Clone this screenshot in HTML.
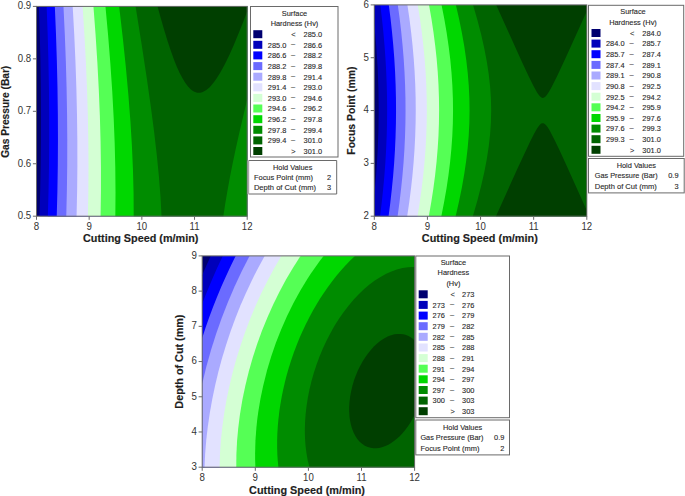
<!DOCTYPE html>
<html><head><meta charset="utf-8"><style>
html,body{margin:0;padding:0;background:#fff;}
svg{display:block;}
text{font-family:"Liberation Sans",sans-serif;fill:#2a2a2a;stroke:#2a2a2a;stroke-width:0.12px;}
.k{fill:#333;stroke:none;}
.t{fill:#1e1e1e;stroke:#1e1e1e;stroke-width:0.15px;}
</style></head><body>
<svg width="685" height="496" viewBox="0 0 685 496">
<rect width="685" height="496" fill="#fff"/>
<rect x="36.50" y="6.40" width="210.70" height="209.80" fill="#000070"/>
<path fill="#0000bb" d="M39.32,6.40 247.20,6.40 247.20,216.20 39.46,216.20 40.21,190.24 40.70,164.98 40.98,139.02 41.02,113.05 40.84,87.09 40.42,60.43 39.77,33.77 38.89,6.40Z"/>
<path fill="#0000ff" d="M47.07,6.40 247.20,6.40 247.20,216.20 47.84,216.20 48.54,190.94 49.00,165.68 49.22,139.72 49.20,113.76 48.92,87.09 48.41,60.43 47.66,33.77 46.65,6.40Z"/>
<path fill="#6b6bff" d="M55.53,6.40 247.20,6.40 247.20,216.20 56.74,216.20 57.40,190.94 57.80,165.68 57.95,139.72 57.84,113.76 57.47,87.09 56.84,60.43 55.97,33.77 54.83,6.40Z"/>
<path fill="#aaaaff" d="M63.98,6.40 247.20,6.40 247.20,216.20 66.26,216.20 66.87,190.94 67.21,165.68 67.27,139.72 67.06,113.76 66.58,87.79 65.83,61.13 64.81,34.47 63.48,6.40Z"/>
<path fill="#e2e2ff" d="M73.14,6.40 247.20,6.40 247.20,216.20 76.57,216.20 77.12,190.94 77.37,165.68 77.33,140.42 76.99,114.46 76.38,88.50 75.46,61.83 74.24,34.47 72.70,6.40Z"/>
<path fill="#d4ffd4" d="M83.01,6.40 247.20,6.40 247.20,216.20 87.88,216.20 88.34,191.64 88.49,166.38 88.32,141.12 87.83,115.16 87.03,89.20 85.90,62.53 84.45,35.17 82.63,6.40Z"/>
<path fill="#55ff55" d="M93.58,6.40 247.20,6.40 247.20,216.20 100.58,216.20 100.93,191.64 100.93,167.08 100.57,141.82 99.86,115.86 98.81,89.90 97.37,62.53 95.56,34.47 93.45,6.40Z"/>
<path fill="#00d700" d="M105.56,6.40 247.20,6.40 247.20,216.20 115.34,216.20 115.52,192.34 115.29,167.78 114.68,143.23 113.68,117.97 112.24,91.30 110.39,63.94 108.15,35.87 105.46,6.40Z"/>
<path fill="#008c00" d="M119.65,6.40 247.20,6.40 247.20,216.20 133.70,216.20 133.57,193.04 132.97,169.89 131.92,146.03 130.42,121.47 128.37,94.81 125.81,66.74 122.81,37.98 119.16,6.40Z"/>
<path fill="#006400" d="M135.86,6.40 247.20,6.40 247.20,99.26 239.16,133.40 235.59,149.54 232.64,163.57 229.86,177.61 227.28,191.64 225.16,204.27 223.37,216.20 161.52,216.20 160.58,197.96 158.97,176.91 156.74,154.45 154.04,131.30 150.83,106.74 146.64,77.27 141.74,44.99 135.59,6.40Z"/>
<path fill="#003f00" d="M157.71,6.40 247.20,6.40 247.20,11.36 243.68,20.63 238.74,33.12 233.81,44.92 229.58,54.38 225.35,63.13 222.54,68.51 219.72,73.48 216.90,78.00 214.08,82.02 211.26,85.48 209.15,87.68 206.33,90.05 204.21,91.37 202.81,92.02 201.40,92.48 199.99,92.75 198.58,92.81 197.17,92.67 195.76,92.32 194.35,91.76 192.94,90.97 191.53,89.97 190.12,88.75 188.01,86.51 185.19,82.75 182.37,78.12 179.55,72.66 176.73,66.40 173.91,59.38 170.39,49.61 167.57,41.08 164.05,29.58 160.52,17.27 157.57,6.40Z"/>
<rect x="374.30" y="4.90" width="212.50" height="211.30" fill="#000070"/>
<path fill="#0000bb" d="M375.01,4.90 586.80,4.90 586.80,216.20 374.30,216.20 374.30,195.55 376.23,173.80 377.59,152.60 378.43,130.69 378.70,109.49 378.42,88.29 377.61,67.09 376.21,45.18 374.30,23.73 374.30,4.90Z"/>
<path fill="#0000ff" d="M380.70,4.90 586.80,4.90 586.80,216.20 380.06,216.20 381.71,202.77 383.14,189.35 384.36,175.92 385.37,162.49 386.15,149.06 386.68,136.34 387.01,123.62 387.13,110.20 387.02,96.77 386.71,84.05 386.16,70.62 385.43,57.90 384.50,45.18 383.31,31.75 381.90,18.33 380.29,4.90Z"/>
<path fill="#6b6bff" d="M389.22,4.90 586.80,4.90 586.80,216.20 388.58,216.20 390.31,202.77 391.82,189.35 393.12,175.92 394.13,163.20 394.97,149.77 395.54,137.05 395.92,123.62 396.04,110.90 395.95,98.18 395.62,84.76 395.09,72.04 394.29,58.61 393.26,45.18 391.99,31.75 390.51,18.33 388.80,4.90Z"/>
<path fill="#aaaaff" d="M398.46,4.90 586.80,4.90 586.80,216.20 397.59,216.20 399.43,202.77 401.04,189.35 402.41,175.92 403.55,162.49 404.43,149.06 405.03,136.34 405.40,123.62 405.54,110.90 405.44,98.18 405.08,84.76 404.51,72.04 403.66,58.61 402.55,45.18 401.21,31.75 399.63,18.33 397.81,4.90Z"/>
<path fill="#e2e2ff" d="M407.70,4.90 586.80,4.90 586.80,216.20 407.19,216.20 409.17,202.77 410.90,189.35 412.38,175.92 413.59,162.49 414.54,149.06 415.19,136.34 415.60,122.92 415.74,110.20 415.62,97.48 415.25,84.76 414.58,71.33 413.70,58.61 412.52,45.18 411.07,31.75 409.36,18.33 407.42,4.90Z"/>
<path fill="#d4ffd4" d="M418.36,4.90 586.80,4.90 586.80,216.20 417.54,216.20 419.67,202.77 421.55,189.35 423.16,175.92 424.49,162.49 425.53,149.06 426.23,136.34 426.67,123.62 426.83,110.90 426.71,98.18 426.29,84.76 425.61,72.04 424.60,58.61 423.30,45.18 421.72,31.75 419.87,18.33 417.76,4.90Z"/>
<path fill="#55ff55" d="M429.73,4.90 586.80,4.90 586.80,216.20 428.82,216.20 431.28,202.07 433.34,188.64 435.11,175.21 436.57,161.78 437.70,148.36 438.48,135.64 438.94,122.92 439.10,110.20 438.95,97.48 438.50,84.76 437.74,72.04 436.61,58.61 435.25,45.89 433.51,32.46 431.48,19.03 429.04,4.90Z"/>
<path fill="#00d700" d="M441.82,4.90 586.80,4.90 586.80,216.20 441.34,216.20 444.12,202.07 446.46,188.64 448.46,175.21 450.13,161.78 451.37,149.06 452.28,136.34 452.84,123.62 453.04,110.90 452.88,98.18 452.37,85.46 451.51,72.74 450.24,59.32 448.60,45.89 446.62,32.46 444.32,19.03 441.57,4.90Z"/>
<path fill="#008c00" d="M456.03,4.90 586.80,4.90 586.80,216.20 455.66,216.20 459.06,201.36 461.93,187.23 464.28,173.80 466.15,161.08 467.63,148.36 468.71,135.64 469.36,122.92 469.58,110.20 469.39,98.18 468.76,85.46 467.71,72.74 466.26,60.02 464.31,46.59 461.96,33.17 459.10,19.03 455.89,4.90Z"/>
<path fill="#006400" d="M473.09,4.90 586.80,4.90 586.80,216.20 472.84,216.20 477.52,199.95 481.17,185.81 484.23,172.39 486.81,158.96 488.75,146.24 490.09,134.22 490.90,122.21 491.18,110.20 490.90,98.18 490.07,86.17 488.73,74.16 486.79,61.44 484.21,48.01 481.16,34.58 477.52,20.45 473.07,4.90Z"/>
<path fill="#003f00" d="M496.54,4.90 586.80,4.90 586.80,11.14 565.48,58.17 556.95,76.41 551.26,87.76 549.13,91.56 547.00,94.80 545.58,96.48 544.16,97.57 543.45,97.85 542.74,97.93 542.03,97.81 541.32,97.49 539.89,96.33 538.47,94.60 537.05,92.47 533.50,86.10 528.52,76.02 521.42,60.78 496.21,4.90ZM541.32,123.58 542.03,123.26 542.74,123.15 543.45,123.24 544.87,123.99 546.29,125.41 547.71,127.33 549.84,130.82 554.82,140.41 559.79,150.84 566.19,164.70 586.80,210.41 586.80,216.20 495.97,216.20 517.86,167.80 529.94,141.97 534.21,133.54 537.05,128.55 539.18,125.51 540.60,124.06 541.25,123.62Z"/>
<rect x="202.20" y="255.90" width="212.40" height="211.30" fill="#000070"/>
<path fill="#0000bb" d="M210.72,256.18 210.86,255.90 414.60,255.90 414.60,467.20 202.20,467.20 202.20,275.13 206.30,265.79 210.52,256.61Z"/>
<path fill="#0000ff" d="M222.80,256.09 222.89,255.90 414.60,255.90 414.60,467.20 202.20,467.20 202.20,303.72 206.83,291.94 211.86,279.93 217.12,268.11 222.55,256.61Z"/>
<path fill="#6b6bff" d="M235.59,256.19 235.73,255.90 414.60,255.90 414.60,467.20 202.20,467.20 202.20,337.95 205.71,327.28 209.30,317.05 213.14,306.78 217.12,296.73 221.38,286.55 225.88,276.39 230.61,266.26 235.37,256.61Z"/>
<path fill="#aaaaff" d="M249.79,255.90 414.60,255.90 414.60,467.20 202.20,467.20 202.20,383.64 206.31,366.85 210.86,350.60 215.99,334.34 221.71,318.09 227.77,302.50 234.70,286.29 241.98,270.75 249.56,255.90Z"/>
<path fill="#e2e2ff" d="M264.71,255.90 414.60,255.90 414.60,467.20 204.51,467.20 205.15,453.77 206.24,440.35 207.76,426.92 209.71,413.49 212.15,399.64 214.99,385.94 218.19,372.50 221.80,359.08 226.06,344.94 230.54,331.52 235.47,318.09 240.55,305.37 246.07,292.65 251.93,280.16 258.12,267.91 264.65,255.90Z"/>
<path fill="#d4ffd4" d="M281.05,256.52 281.43,255.90 414.60,255.90 414.60,467.20 219.56,467.20 219.99,453.77 220.91,440.35 222.31,426.92 224.17,413.49 226.48,400.06 229.25,386.64 232.64,372.50 236.32,359.08 240.47,345.65 245.08,332.22 249.90,319.50 255.48,306.07 261.26,293.35 267.55,280.65 274.01,268.62 281.00,256.61Z"/>
<path fill="#55ff55" d="M300.23,256.49 300.63,255.90 414.60,255.90 414.60,467.20 236.28,467.20 236.39,454.48 237.06,441.05 238.27,427.63 240.10,413.49 242.49,399.36 245.27,385.93 248.73,371.80 252.64,358.04 256.90,344.82 261.87,331.08 267.41,317.38 273.10,304.66 279.35,291.94 286.02,279.57 292.89,267.91 300.15,256.61Z"/>
<path fill="#00d700" d="M323.67,256.00 323.75,255.90 414.60,255.90 414.60,467.20 255.39,467.20 255.17,460.84 255.10,453.77 255.46,440.35 256.46,426.92 257.22,419.85 258.15,412.78 260.45,398.83 263.29,385.19 266.85,371.09 271.11,356.79 275.92,342.82 281.17,329.40 287.09,315.97 293.36,303.25 300.23,290.71 307.33,279.02 310.90,273.57 315.15,267.39 319.40,261.55 323.19,256.61Z"/>
<path fill="#008c00" d="M354.93,256.10 355.15,255.90 414.60,255.90 414.60,467.20 278.37,467.20 277.77,460.84 277.33,453.77 277.14,447.41 277.14,440.35 277.37,433.28 277.80,426.21 278.43,419.15 279.35,411.37 280.40,404.30 281.76,396.53 283.21,389.46 285.01,381.69 286.85,374.62 288.88,367.56 291.34,359.78 293.84,352.58 296.68,345.04 299.52,338.07 302.39,331.52 305.70,324.45 309.27,317.38 312.70,311.02 316.36,304.66 320.12,298.52 323.96,292.65 327.94,286.92 332.20,281.17 336.46,275.78 340.72,270.73 345.18,265.79 349.96,260.86 354.38,256.61Z"/>
<path fill="#006400" d="M408.21,267.17 411.76,266.94 414.60,266.93 414.60,467.20 309.41,467.20 307.70,460.13 306.44,453.07 305.56,446.00 305.00,438.23 304.83,430.45 305.05,421.97 305.60,414.20 306.58,405.72 307.92,397.24 309.47,389.46 311.52,380.98 313.93,372.50 316.57,364.45 319.62,356.25 322.96,348.25 326.51,340.63 330.49,332.93 334.53,325.86 338.97,318.80 343.56,312.18 348.54,305.68 353.51,299.82 358.48,294.52 364.14,289.11 369.14,284.87 374.82,280.62 380.50,276.94 386.19,273.84 391.49,271.45 396.84,269.53 402.52,268.06 407.91,267.21Z"/>
<path fill="#003f00" d="M394.71,334.27 397.55,333.91 400.39,333.88 403.23,334.23 405.37,334.76 407.96,335.76 410.34,337.05 412.47,338.58 414.60,340.53 414.60,415.11 412.47,419.11 410.34,422.69 408.01,426.21 405.37,429.77 402.52,433.16 399.68,436.15 396.84,438.78 394.00,441.07 391.16,443.03 388.32,444.69 385.47,446.04 381.92,447.30 379.08,447.95 376.24,448.27 373.40,448.25 370.56,447.86 367.72,447.04 364.87,445.74 362.03,443.86 359.67,441.76 357.25,438.93 355.38,436.11 353.56,432.57 352.09,428.82 350.92,424.80 350.05,420.56 349.49,416.32 349.19,411.37 349.22,406.42 349.55,401.48 350.16,396.53 351.19,390.88 352.57,385.22 354.07,380.28 355.64,375.90 357.77,370.78 360.00,366.14 362.74,361.20 365.44,356.96 367.98,353.42 370.84,349.89 374.11,346.35 377.13,343.53 380.50,340.82 384.05,338.47 387.61,336.59 391.16,335.19 394.36,334.34Z"/>
<rect x="36.50" y="6.40" width="210.70" height="209.80" fill="none" stroke="#6a6a6a" stroke-width="1"/>
<line x1="36.50" y1="216.20" x2="36.50" y2="219.80" stroke="#6a6a6a"/>
<text x="36.5" y="229.8" font-size="10.50" text-anchor="middle" textLength="5.4" lengthAdjust="spacingAndGlyphs" class="k">8</text>
<line x1="89.17" y1="216.20" x2="89.17" y2="219.80" stroke="#6a6a6a"/>
<text x="89.2" y="229.8" font-size="10.50" text-anchor="middle" textLength="5.4" lengthAdjust="spacingAndGlyphs" class="k">9</text>
<line x1="141.85" y1="216.20" x2="141.85" y2="219.80" stroke="#6a6a6a"/>
<text x="141.8" y="229.8" font-size="10.50" text-anchor="middle" textLength="10.7" lengthAdjust="spacingAndGlyphs" class="k">10</text>
<line x1="194.52" y1="216.20" x2="194.52" y2="219.80" stroke="#6a6a6a"/>
<text x="194.5" y="229.8" font-size="10.50" text-anchor="middle" textLength="10.0" lengthAdjust="spacingAndGlyphs" class="k">11</text>
<line x1="247.20" y1="216.20" x2="247.20" y2="219.80" stroke="#6a6a6a"/>
<text x="247.2" y="229.8" font-size="10.50" text-anchor="middle" textLength="10.7" lengthAdjust="spacingAndGlyphs" class="k">12</text>
<line x1="32.90" y1="6.40" x2="36.50" y2="6.40" stroke="#6a6a6a"/>
<text x="31.2" y="9.2" font-size="10.50" text-anchor="end" textLength="13.4" lengthAdjust="spacingAndGlyphs" class="k">0.9</text>
<line x1="32.90" y1="58.85" x2="36.50" y2="58.85" stroke="#6a6a6a"/>
<text x="31.2" y="61.6" font-size="10.50" text-anchor="end" textLength="13.4" lengthAdjust="spacingAndGlyphs" class="k">0.8</text>
<line x1="32.90" y1="111.30" x2="36.50" y2="111.30" stroke="#6a6a6a"/>
<text x="31.2" y="114.1" font-size="10.50" text-anchor="end" textLength="13.4" lengthAdjust="spacingAndGlyphs" class="k">0.7</text>
<line x1="32.90" y1="163.75" x2="36.50" y2="163.75" stroke="#6a6a6a"/>
<text x="31.2" y="166.6" font-size="10.50" text-anchor="end" textLength="13.4" lengthAdjust="spacingAndGlyphs" class="k">0.6</text>
<line x1="32.90" y1="216.20" x2="36.50" y2="216.20" stroke="#6a6a6a"/>
<text x="31.2" y="219.0" font-size="10.50" text-anchor="end" textLength="13.4" lengthAdjust="spacingAndGlyphs" class="k">0.5</text>
<text transform="translate(9.00 111.80) rotate(-90)" x="0" y="0" font-size="10" font-weight="bold" text-anchor="middle" textLength="92.1" lengthAdjust="spacingAndGlyphs" class="t">Gas Pressure (Bar)</text>
<text x="140.7" y="242.3" font-size="10.00" text-anchor="middle" font-weight="bold" textLength="115.4" lengthAdjust="spacingAndGlyphs" class="t">Cutting Speed (m/min)</text>
<rect x="374.30" y="4.90" width="212.50" height="211.30" fill="none" stroke="#6a6a6a" stroke-width="1"/>
<line x1="374.30" y1="216.20" x2="374.30" y2="219.80" stroke="#6a6a6a"/>
<text x="374.3" y="229.8" font-size="10.50" text-anchor="middle" textLength="5.4" lengthAdjust="spacingAndGlyphs" class="k">8</text>
<line x1="427.43" y1="216.20" x2="427.43" y2="219.80" stroke="#6a6a6a"/>
<text x="427.4" y="229.8" font-size="10.50" text-anchor="middle" textLength="5.4" lengthAdjust="spacingAndGlyphs" class="k">9</text>
<line x1="480.55" y1="216.20" x2="480.55" y2="219.80" stroke="#6a6a6a"/>
<text x="480.5" y="229.8" font-size="10.50" text-anchor="middle" textLength="10.7" lengthAdjust="spacingAndGlyphs" class="k">10</text>
<line x1="533.67" y1="216.20" x2="533.67" y2="219.80" stroke="#6a6a6a"/>
<text x="533.7" y="229.8" font-size="10.50" text-anchor="middle" textLength="10.0" lengthAdjust="spacingAndGlyphs" class="k">11</text>
<line x1="586.80" y1="216.20" x2="586.80" y2="219.80" stroke="#6a6a6a"/>
<text x="586.8" y="229.8" font-size="10.50" text-anchor="middle" textLength="10.7" lengthAdjust="spacingAndGlyphs" class="k">12</text>
<line x1="370.70" y1="4.90" x2="374.30" y2="4.90" stroke="#6a6a6a"/>
<text x="369.0" y="7.7" font-size="10.50" text-anchor="end" textLength="5.4" lengthAdjust="spacingAndGlyphs" class="k">6</text>
<line x1="370.70" y1="57.72" x2="374.30" y2="57.72" stroke="#6a6a6a"/>
<text x="369.0" y="60.5" font-size="10.50" text-anchor="end" textLength="5.4" lengthAdjust="spacingAndGlyphs" class="k">5</text>
<line x1="370.70" y1="110.55" x2="374.30" y2="110.55" stroke="#6a6a6a"/>
<text x="369.0" y="113.3" font-size="10.50" text-anchor="end" textLength="5.4" lengthAdjust="spacingAndGlyphs" class="k">4</text>
<line x1="370.70" y1="163.38" x2="374.30" y2="163.38" stroke="#6a6a6a"/>
<text x="369.0" y="166.2" font-size="10.50" text-anchor="end" textLength="5.4" lengthAdjust="spacingAndGlyphs" class="k">3</text>
<line x1="370.70" y1="216.20" x2="374.30" y2="216.20" stroke="#6a6a6a"/>
<text x="369.0" y="219.0" font-size="10.50" text-anchor="end" textLength="5.4" lengthAdjust="spacingAndGlyphs" class="k">2</text>
<text transform="translate(355.00 110.60) rotate(-90)" x="0" y="0" font-size="10" font-weight="bold" text-anchor="middle" textLength="88.1" lengthAdjust="spacingAndGlyphs" class="t">Focus Point (mm)</text>
<text x="479.8" y="242.1" font-size="10.00" text-anchor="middle" font-weight="bold" textLength="116.0" lengthAdjust="spacingAndGlyphs" class="t">Cutting Speed (m/min)</text>
<rect x="202.20" y="255.90" width="212.40" height="211.30" fill="none" stroke="#6a6a6a" stroke-width="1"/>
<line x1="202.20" y1="467.20" x2="202.20" y2="470.80" stroke="#6a6a6a"/>
<text x="202.2" y="480.8" font-size="10.50" text-anchor="middle" textLength="5.4" lengthAdjust="spacingAndGlyphs" class="k">8</text>
<line x1="255.30" y1="467.20" x2="255.30" y2="470.80" stroke="#6a6a6a"/>
<text x="255.3" y="480.8" font-size="10.50" text-anchor="middle" textLength="5.4" lengthAdjust="spacingAndGlyphs" class="k">9</text>
<line x1="308.40" y1="467.20" x2="308.40" y2="470.80" stroke="#6a6a6a"/>
<text x="308.4" y="480.8" font-size="10.50" text-anchor="middle" textLength="10.7" lengthAdjust="spacingAndGlyphs" class="k">10</text>
<line x1="361.50" y1="467.20" x2="361.50" y2="470.80" stroke="#6a6a6a"/>
<text x="361.5" y="480.8" font-size="10.50" text-anchor="middle" textLength="10.0" lengthAdjust="spacingAndGlyphs" class="k">11</text>
<line x1="414.60" y1="467.20" x2="414.60" y2="470.80" stroke="#6a6a6a"/>
<text x="414.6" y="480.8" font-size="10.50" text-anchor="middle" textLength="10.7" lengthAdjust="spacingAndGlyphs" class="k">12</text>
<line x1="198.60" y1="255.90" x2="202.20" y2="255.90" stroke="#6a6a6a"/>
<text x="196.9" y="258.7" font-size="10.50" text-anchor="end" textLength="5.4" lengthAdjust="spacingAndGlyphs" class="k">9</text>
<line x1="198.60" y1="291.12" x2="202.20" y2="291.12" stroke="#6a6a6a"/>
<text x="196.9" y="293.9" font-size="10.50" text-anchor="end" textLength="5.4" lengthAdjust="spacingAndGlyphs" class="k">8</text>
<line x1="198.60" y1="326.33" x2="202.20" y2="326.33" stroke="#6a6a6a"/>
<text x="196.9" y="329.1" font-size="10.50" text-anchor="end" textLength="5.4" lengthAdjust="spacingAndGlyphs" class="k">7</text>
<line x1="198.60" y1="361.55" x2="202.20" y2="361.55" stroke="#6a6a6a"/>
<text x="196.9" y="364.4" font-size="10.50" text-anchor="end" textLength="5.4" lengthAdjust="spacingAndGlyphs" class="k">6</text>
<line x1="198.60" y1="396.77" x2="202.20" y2="396.77" stroke="#6a6a6a"/>
<text x="196.9" y="399.6" font-size="10.50" text-anchor="end" textLength="5.4" lengthAdjust="spacingAndGlyphs" class="k">5</text>
<line x1="198.60" y1="431.98" x2="202.20" y2="431.98" stroke="#6a6a6a"/>
<text x="196.9" y="434.8" font-size="10.50" text-anchor="end" textLength="5.4" lengthAdjust="spacingAndGlyphs" class="k">4</text>
<line x1="198.60" y1="467.20" x2="202.20" y2="467.20" stroke="#6a6a6a"/>
<text x="196.9" y="470.0" font-size="10.50" text-anchor="end" textLength="5.4" lengthAdjust="spacingAndGlyphs" class="k">3</text>
<text transform="translate(183.00 361.60) rotate(-90)" x="0" y="0" font-size="10" font-weight="bold" text-anchor="middle" textLength="94.1" lengthAdjust="spacingAndGlyphs" class="t">Depth of Cut (mm)</text>
<text x="307.0" y="493.6" font-size="10.00" text-anchor="middle" font-weight="bold" textLength="115.9" lengthAdjust="spacingAndGlyphs" class="t">Cutting Speed (m/min)</text>
<rect x="250.5" y="6.5" width="87.5" height="150.5" fill="#fff" stroke="#6a6a6a"/>
<text x="294.5" y="15.8" font-size="7.40" text-anchor="middle">Surface</text>
<text x="294.5" y="26.1" font-size="7.40" text-anchor="middle">Hardness (Hv)</text>
<rect x="253.3" y="30.2" width="9" height="8" fill="#000070"/>
<text x="293.5" y="37.0" font-size="7.40" text-anchor="middle">&lt;</text>
<text x="322.1" y="37.0" font-size="7.40" text-anchor="end">285.0</text>
<rect x="253.3" y="40.8" width="9" height="8" fill="#0000bb"/>
<text x="286.3" y="47.6" font-size="7.40" text-anchor="end">285.0</text>
<text x="293.0" y="46.3" font-size="7.40" text-anchor="middle">–</text>
<text x="322.1" y="47.6" font-size="7.40" text-anchor="end">286.6</text>
<rect x="253.3" y="51.4" width="9" height="8" fill="#0000ff"/>
<text x="286.3" y="58.2" font-size="7.40" text-anchor="end">286.6</text>
<text x="293.0" y="56.9" font-size="7.40" text-anchor="middle">–</text>
<text x="322.1" y="58.2" font-size="7.40" text-anchor="end">288.2</text>
<rect x="253.3" y="62.1" width="9" height="8" fill="#6b6bff"/>
<text x="286.3" y="68.9" font-size="7.40" text-anchor="end">288.2</text>
<text x="293.0" y="67.6" font-size="7.40" text-anchor="middle">–</text>
<text x="322.1" y="68.9" font-size="7.40" text-anchor="end">289.8</text>
<rect x="253.3" y="72.7" width="9" height="8" fill="#aaaaff"/>
<text x="286.3" y="79.5" font-size="7.40" text-anchor="end">289.8</text>
<text x="293.0" y="78.2" font-size="7.40" text-anchor="middle">–</text>
<text x="322.1" y="79.5" font-size="7.40" text-anchor="end">291.4</text>
<rect x="253.3" y="83.3" width="9" height="8" fill="#e2e2ff"/>
<text x="286.3" y="90.1" font-size="7.40" text-anchor="end">291.4</text>
<text x="293.0" y="88.8" font-size="7.40" text-anchor="middle">–</text>
<text x="322.1" y="90.1" font-size="7.40" text-anchor="end">293.0</text>
<rect x="253.3" y="93.9" width="9" height="8" fill="#d4ffd4"/>
<text x="286.3" y="100.7" font-size="7.40" text-anchor="end">293.0</text>
<text x="293.0" y="99.4" font-size="7.40" text-anchor="middle">–</text>
<text x="322.1" y="100.7" font-size="7.40" text-anchor="end">294.6</text>
<rect x="253.3" y="104.5" width="9" height="8" fill="#55ff55"/>
<text x="286.3" y="111.3" font-size="7.40" text-anchor="end">294.6</text>
<text x="293.0" y="110.0" font-size="7.40" text-anchor="middle">–</text>
<text x="322.1" y="111.3" font-size="7.40" text-anchor="end">296.2</text>
<rect x="253.3" y="115.2" width="9" height="8" fill="#00d700"/>
<text x="286.3" y="122.0" font-size="7.40" text-anchor="end">296.2</text>
<text x="293.0" y="120.7" font-size="7.40" text-anchor="middle">–</text>
<text x="322.1" y="122.0" font-size="7.40" text-anchor="end">297.8</text>
<rect x="253.3" y="125.8" width="9" height="8" fill="#008c00"/>
<text x="286.3" y="132.6" font-size="7.40" text-anchor="end">297.8</text>
<text x="293.0" y="131.3" font-size="7.40" text-anchor="middle">–</text>
<text x="322.1" y="132.6" font-size="7.40" text-anchor="end">299.4</text>
<rect x="253.3" y="136.4" width="9" height="8" fill="#006400"/>
<text x="286.3" y="143.2" font-size="7.40" text-anchor="end">299.4</text>
<text x="293.0" y="141.9" font-size="7.40" text-anchor="middle">–</text>
<text x="322.1" y="143.2" font-size="7.40" text-anchor="end">301.0</text>
<rect x="253.3" y="147.0" width="9" height="8" fill="#003f00"/>
<text x="293.5" y="153.8" font-size="7.40" text-anchor="middle">&gt;</text>
<text x="322.1" y="153.8" font-size="7.40" text-anchor="end">301.0</text>
<rect x="248.6" y="160.5" width="88.1" height="33.5" fill="#fff"/>
<path d="M248.6 160.5H336.7V194.0H248.6" fill="none" stroke="#6a6a6a"/>
<text x="292.7" y="169.7" font-size="7.40" text-anchor="middle">Hold Values</text>
<text x="253.9" y="179.9" font-size="7.40" textLength="59.1" lengthAdjust="spacingAndGlyphs">Focus Point (mm)</text>
<text x="331.2" y="179.9" font-size="7.40" text-anchor="end">2</text>
<text x="253.9" y="190.1" font-size="7.40" textLength="62.2" lengthAdjust="spacingAndGlyphs">Depth of Cut (mm)</text>
<text x="331.2" y="190.1" font-size="7.40" text-anchor="end">3</text>
<rect x="247.4" y="160.5" width="1.8" height="33.6" fill="#a8a8a8"/>
<rect x="588.5" y="5.3" width="95.2" height="151.0" fill="#fff" stroke="#6a6a6a"/>
<text x="633.0" y="14.2" font-size="7.40" text-anchor="middle">Surface</text>
<text x="633.0" y="25.0" font-size="7.40" text-anchor="middle">Hardness (Hv)</text>
<rect x="591.5" y="29.0" width="9" height="8" fill="#000070"/>
<text x="632.1" y="35.8" font-size="7.40" text-anchor="middle">&lt;</text>
<text x="660.8" y="35.8" font-size="7.40" text-anchor="end">284.0</text>
<rect x="591.5" y="39.6" width="9" height="8" fill="#0000bb"/>
<text x="624.5" y="46.4" font-size="7.40" text-anchor="end">284.0</text>
<text x="631.6" y="45.1" font-size="7.40" text-anchor="middle">–</text>
<text x="660.8" y="46.4" font-size="7.40" text-anchor="end">285.7</text>
<rect x="591.5" y="50.2" width="9" height="8" fill="#0000ff"/>
<text x="624.5" y="57.0" font-size="7.40" text-anchor="end">285.7</text>
<text x="631.6" y="55.7" font-size="7.40" text-anchor="middle">–</text>
<text x="660.8" y="57.0" font-size="7.40" text-anchor="end">287.4</text>
<rect x="591.5" y="60.9" width="9" height="8" fill="#6b6bff"/>
<text x="624.5" y="67.7" font-size="7.40" text-anchor="end">287.4</text>
<text x="631.6" y="66.4" font-size="7.40" text-anchor="middle">–</text>
<text x="660.8" y="67.7" font-size="7.40" text-anchor="end">289.1</text>
<rect x="591.5" y="71.5" width="9" height="8" fill="#aaaaff"/>
<text x="624.5" y="78.3" font-size="7.40" text-anchor="end">289.1</text>
<text x="631.6" y="77.0" font-size="7.40" text-anchor="middle">–</text>
<text x="660.8" y="78.3" font-size="7.40" text-anchor="end">290.8</text>
<rect x="591.5" y="82.1" width="9" height="8" fill="#e2e2ff"/>
<text x="624.5" y="88.9" font-size="7.40" text-anchor="end">290.8</text>
<text x="631.6" y="87.6" font-size="7.40" text-anchor="middle">–</text>
<text x="660.8" y="88.9" font-size="7.40" text-anchor="end">292.5</text>
<rect x="591.5" y="92.7" width="9" height="8" fill="#d4ffd4"/>
<text x="624.5" y="99.5" font-size="7.40" text-anchor="end">292.5</text>
<text x="631.6" y="98.2" font-size="7.40" text-anchor="middle">–</text>
<text x="660.8" y="99.5" font-size="7.40" text-anchor="end">294.2</text>
<rect x="591.5" y="103.3" width="9" height="8" fill="#55ff55"/>
<text x="624.5" y="110.1" font-size="7.40" text-anchor="end">294.2</text>
<text x="631.6" y="108.8" font-size="7.40" text-anchor="middle">–</text>
<text x="660.8" y="110.1" font-size="7.40" text-anchor="end">295.9</text>
<rect x="591.5" y="114.0" width="9" height="8" fill="#00d700"/>
<text x="624.5" y="120.8" font-size="7.40" text-anchor="end">295.9</text>
<text x="631.6" y="119.5" font-size="7.40" text-anchor="middle">–</text>
<text x="660.8" y="120.8" font-size="7.40" text-anchor="end">297.6</text>
<rect x="591.5" y="124.6" width="9" height="8" fill="#008c00"/>
<text x="624.5" y="131.4" font-size="7.40" text-anchor="end">297.6</text>
<text x="631.6" y="130.1" font-size="7.40" text-anchor="middle">–</text>
<text x="660.8" y="131.4" font-size="7.40" text-anchor="end">299.3</text>
<rect x="591.5" y="135.2" width="9" height="8" fill="#006400"/>
<text x="624.5" y="142.0" font-size="7.40" text-anchor="end">299.3</text>
<text x="631.6" y="140.7" font-size="7.40" text-anchor="middle">–</text>
<text x="660.8" y="142.0" font-size="7.40" text-anchor="end">301.0</text>
<rect x="591.5" y="145.8" width="9" height="8" fill="#003f00"/>
<text x="632.1" y="152.6" font-size="7.40" text-anchor="middle">&gt;</text>
<text x="660.8" y="152.6" font-size="7.40" text-anchor="end">301.0</text>
<rect x="588.5" y="158.5" width="95.7" height="34.4" fill="#fff" stroke="#6a6a6a"/>
<text x="636.3" y="168.0" font-size="7.40" text-anchor="middle">Hold Values</text>
<text x="594.7" y="178.4" font-size="7.40" textLength="63.0" lengthAdjust="spacingAndGlyphs">Gas Pressure (Bar)</text>
<text x="678.5" y="178.4" font-size="7.40" text-anchor="end">0.9</text>
<text x="594.7" y="188.5" font-size="7.40" textLength="62.2" lengthAdjust="spacingAndGlyphs">Depth of Cut (mm)</text>
<text x="678.5" y="188.5" font-size="7.40" text-anchor="end">3</text>
<rect x="415.8" y="256.0" width="93.7" height="161.7" fill="#fff" stroke="#6a6a6a"/>
<text x="453.4" y="264.9" font-size="7.40" text-anchor="middle">Surface</text>
<text x="453.4" y="275.4" font-size="7.40" text-anchor="middle">Hardness</text>
<text x="453.4" y="286.3" font-size="7.40" text-anchor="middle">(Hv)</text>
<rect x="418.7" y="290.3" width="9" height="8" fill="#000070"/>
<text x="452.6" y="297.1" font-size="7.40" text-anchor="middle">&lt;</text>
<text x="474.4" y="297.1" font-size="7.40" text-anchor="end">273</text>
<rect x="418.7" y="300.9" width="9" height="8" fill="#0000bb"/>
<text x="444.9" y="307.7" font-size="7.40" text-anchor="end">273</text>
<text x="452.1" y="306.4" font-size="7.40" text-anchor="middle">–</text>
<text x="474.4" y="307.7" font-size="7.40" text-anchor="end">276</text>
<rect x="418.7" y="311.6" width="9" height="8" fill="#0000ff"/>
<text x="444.9" y="318.4" font-size="7.40" text-anchor="end">276</text>
<text x="452.1" y="317.1" font-size="7.40" text-anchor="middle">–</text>
<text x="474.4" y="318.4" font-size="7.40" text-anchor="end">279</text>
<rect x="418.7" y="322.2" width="9" height="8" fill="#6b6bff"/>
<text x="444.9" y="329.0" font-size="7.40" text-anchor="end">279</text>
<text x="452.1" y="327.7" font-size="7.40" text-anchor="middle">–</text>
<text x="474.4" y="329.0" font-size="7.40" text-anchor="end">282</text>
<rect x="418.7" y="332.8" width="9" height="8" fill="#aaaaff"/>
<text x="444.9" y="339.6" font-size="7.40" text-anchor="end">282</text>
<text x="452.1" y="338.3" font-size="7.40" text-anchor="middle">–</text>
<text x="474.4" y="339.6" font-size="7.40" text-anchor="end">285</text>
<rect x="418.7" y="343.5" width="9" height="8" fill="#e2e2ff"/>
<text x="444.9" y="350.3" font-size="7.40" text-anchor="end">285</text>
<text x="452.1" y="349.0" font-size="7.40" text-anchor="middle">–</text>
<text x="474.4" y="350.3" font-size="7.40" text-anchor="end">288</text>
<rect x="418.7" y="354.1" width="9" height="8" fill="#d4ffd4"/>
<text x="444.9" y="360.9" font-size="7.40" text-anchor="end">288</text>
<text x="452.1" y="359.6" font-size="7.40" text-anchor="middle">–</text>
<text x="474.4" y="360.9" font-size="7.40" text-anchor="end">291</text>
<rect x="418.7" y="364.7" width="9" height="8" fill="#55ff55"/>
<text x="444.9" y="371.5" font-size="7.40" text-anchor="end">291</text>
<text x="452.1" y="370.2" font-size="7.40" text-anchor="middle">–</text>
<text x="474.4" y="371.5" font-size="7.40" text-anchor="end">294</text>
<rect x="418.7" y="375.3" width="9" height="8" fill="#00d700"/>
<text x="444.9" y="382.1" font-size="7.40" text-anchor="end">294</text>
<text x="452.1" y="380.8" font-size="7.40" text-anchor="middle">–</text>
<text x="474.4" y="382.1" font-size="7.40" text-anchor="end">297</text>
<rect x="418.7" y="386.0" width="9" height="8" fill="#008c00"/>
<text x="444.9" y="392.8" font-size="7.40" text-anchor="end">297</text>
<text x="452.1" y="391.5" font-size="7.40" text-anchor="middle">–</text>
<text x="474.4" y="392.8" font-size="7.40" text-anchor="end">300</text>
<rect x="418.7" y="396.6" width="9" height="8" fill="#006400"/>
<text x="444.9" y="403.4" font-size="7.40" text-anchor="end">300</text>
<text x="452.1" y="402.1" font-size="7.40" text-anchor="middle">–</text>
<text x="474.4" y="403.4" font-size="7.40" text-anchor="end">303</text>
<rect x="418.7" y="407.2" width="9" height="8" fill="#003f00"/>
<text x="452.6" y="414.0" font-size="7.40" text-anchor="middle">&gt;</text>
<text x="474.4" y="414.0" font-size="7.40" text-anchor="end">303</text>
<rect x="415.8" y="420.0" width="93.7" height="34.9" fill="#fff" stroke="#6a6a6a"/>
<text x="462.6" y="429.7" font-size="7.40" text-anchor="middle">Hold Values</text>
<text x="420.4" y="440.1" font-size="7.40" textLength="63.0" lengthAdjust="spacingAndGlyphs">Gas Pressure (Bar)</text>
<text x="504.4" y="440.1" font-size="7.40" text-anchor="end">0.9</text>
<text x="420.4" y="450.6" font-size="7.40" textLength="59.1" lengthAdjust="spacingAndGlyphs">Focus Point (mm)</text>
<text x="504.4" y="450.6" font-size="7.40" text-anchor="end">2</text>
</svg>
</body></html>
